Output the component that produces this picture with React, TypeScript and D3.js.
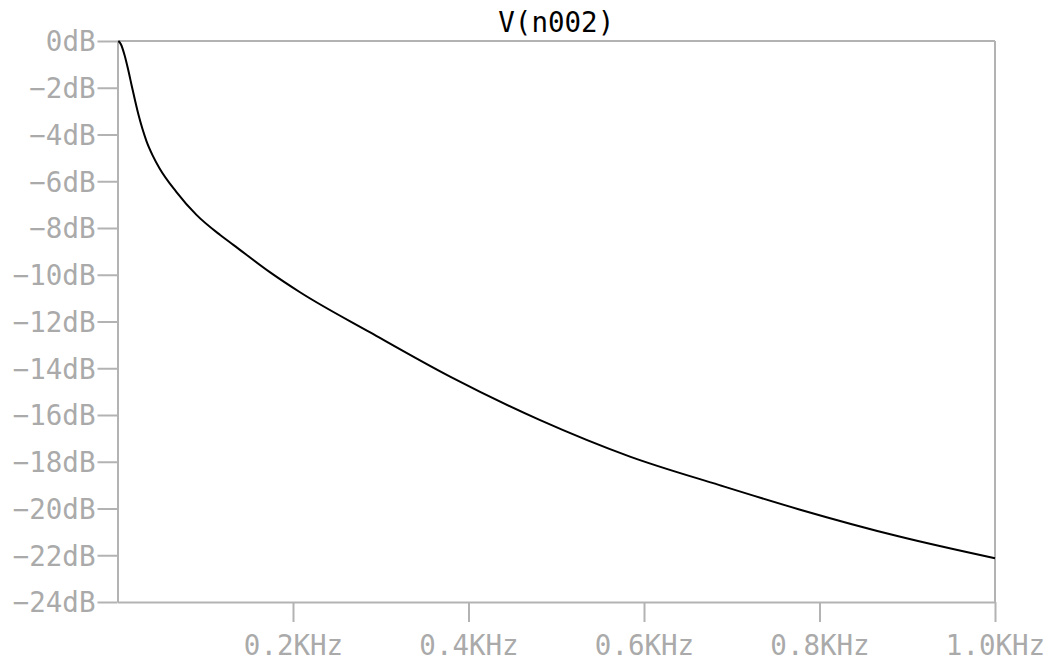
import React, { useRef, useEffect } from 'react';
import * as d3 from 'd3';

// frequency (Hz) and magnitude (dB)
const FREQ = [1, 4, 8, 12, 16, 24, 33, 40, 48, 67, 90, 117, 132, 174, 208, 288, 379, 481, 584, 686, 777, 891, 1000];
const MAG  = [0, -0.15, -0.6, -1.2, -1.88, -3.17, -4.28, -4.89, -5.45, -6.45, -7.44, -8.3, -8.72, -9.9, -10.75, -12.47, -14.36, -16.21, -17.78, -19.0, -20.04, -21.2, -22.13];

const X_TICKS = [200, 400, 600, 800, 1000];
const Y_TICKS = [0, -2, -4, -6, -8, -10, -12, -14, -16, -18, -20, -22, -24];
const TITLE = 'V(n002)';

const WIDTH = 1052;
const HEIGHT = 662;
const AXIS_COLOR = '#b3b3b3';
const TEXT_COLOR = '#aaaaaa';
const FONT = '"DejaVu Sans Mono", "Liberation Mono", monospace';
const FONT_SIZE = 27.5;

export default function App() {
  const svgRef = useRef<SVGSVGElement>(null);

  useEffect(() => {
    const svgEl = svgRef.current;
    if (!svgEl) return;
    const svg = d3.select(svgEl);
    svg.selectAll('*').remove();

    const margin = { top: 41, right: 57, bottom: 60, left: 117.5 };
    const plotW = WIDTH - margin.left - margin.right;
    const plotH = HEIGHT - margin.top - margin.bottom;

    const x = d3.scaleLinear().domain([0, 1000]).range([0, plotW]);
    const y = d3.scaleLinear().domain([-24, 0]).range([plotH, 0]);

    const g = svg.append('g').attr('transform', `translate(${margin.left},${margin.top})`);

    // frame: top and right edges
    g.append('line')
      .attr('x1', 0).attr('x2', plotW).attr('y1', 0).attr('y2', 0)
      .attr('stroke', AXIS_COLOR).attr('stroke-width', 2);
    g.append('line')
      .attr('x1', plotW).attr('x2', plotW).attr('y1', 0).attr('y2', plotH)
      .attr('stroke', AXIS_COLOR).attr('stroke-width', 2);

    // X axis
    g.append('g')
      .attr('transform', `translate(0,${plotH})`)
      .call(d3.axisBottom(x).tickValues(X_TICKS).tickSize(20).tickPadding(13.5).tickSizeOuter(0)
        .tickFormat(d => `${d3.format('.1f')((d as number) / 1000)}KHz`))
      .call(a => a.select('.domain').attr('stroke', AXIS_COLOR).attr('stroke-width', 2))
      .call(a => a.selectAll('line').attr('stroke', AXIS_COLOR).attr('stroke-width', 2))
      .call(a => a.selectAll('text').attr('fill', TEXT_COLOR).attr('font-size', FONT_SIZE).attr('font-family', FONT));

    // Y axis
    g.append('g')
      .call(d3.axisLeft(y).tickValues(Y_TICKS).tickSize(20).tickPadding(2).tickSizeOuter(0)
        .tickFormat(d => `${d3.format('d')(d as number)}dB`))
      .call(a => a.select('.domain').attr('stroke', AXIS_COLOR).attr('stroke-width', 2))
      .call(a => a.selectAll('line').attr('stroke', AXIS_COLOR).attr('stroke-width', 2))
      .call(a => a.selectAll('text').attr('fill', TEXT_COLOR).attr('font-size', FONT_SIZE)
        .attr('font-family', FONT).attr('dy', '0.36em'));

    // trace
    const line = d3.line<number>()
      .x(i => x(FREQ[i]))
      .y(i => y(MAG[i]))
      .curve(d3.curveMonotoneX);

    g.append('path')
      .datum(d3.range(FREQ.length))
      .attr('fill', 'none').attr('stroke', '#000').attr('stroke-width', 2)
      .attr('d', line);

    // title
    svg.append('text')
      .attr('x', margin.left + plotW / 2).attr('y', 32)
      .attr('text-anchor', 'middle')
      .attr('font-family', FONT).attr('font-size', FONT_SIZE)
      .attr('fill', '#000')
      .text(TITLE);
  }, []);

  return (
    <svg
      ref={svgRef}
      width={WIDTH}
      height={HEIGHT}
      style={{ position: 'absolute', top: 0, left: 0, display: 'block', background: '#fff' }}
    />
  );
}
